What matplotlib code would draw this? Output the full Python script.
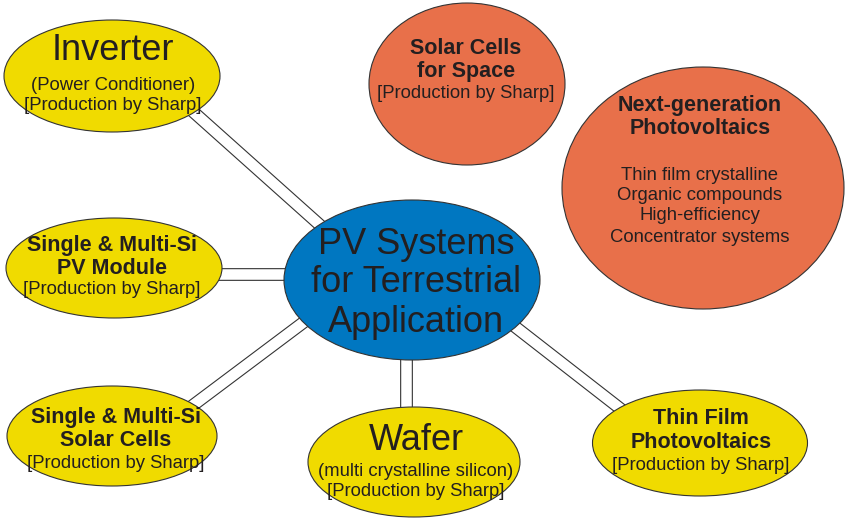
import matplotlib
matplotlib.use("Agg")
import matplotlib.pyplot as plt
from matplotlib.patches import Ellipse

plt.rcParams['font.family'] = ['Liberation Sans', 'DejaVu Sans']

YELLOW = '#f0db00'
ORANGE = '#e8704a'
BLUE = '#0077c1'
INK = '#231f20'

# node text (title lines, then the smaller lines under them)
hub_lines = ["PV Systems", "for Terrestrial", "Application"]
inverter_lines = ["Inverter", "(Power Conditioner)", "[Production by Sharp]"]
space_lines = ["Solar Cells", "for Space", "[Production by Sharp]"]
nextgen_lines = ["Next-generation", "Photovoltaics", "Thin film crystalline",
                 "Organic compounds", "High-efficiency", "Concentrator systems"]
module_lines = ["Single & Multi-Si", "PV Module", "[Production by Sharp]"]
cells_lines = ["Single & Multi-Si", "Solar Cells", "[Production by Sharp]"]
wafer_lines = ["Wafer", "(multi crystalline silicon)", "[Production by Sharp]"]
thinfilm_lines = ["Thin Film", "Photovoltaics", "[Production by Sharp]"]

# layout in pixel coords: (cx, cy, w, h, colour, text x, line ys, line styles)
BIG = (26, 'normal')
BOLD = (15.5, 'bold')
SMALL = (13.3, 'normal')

nodes = [
    (412, 280, 256, 160, BLUE, 416, [245, 283, 322], [BIG, BIG, BIG], hub_lines),
    (112, 76, 216, 112, YELLOW, 113, [50, 85, 105], [BIG, SMALL, SMALL], inverter_lines),
    (467, 84, 196, 162, ORANGE, 466, [48, 72, 93], [BOLD, BOLD, SMALL], space_lines),
    (703, 188, 282, 242, ORANGE, 700, [105, 128, 176, 196, 216, 237],
     [BOLD, BOLD, SMALL, SMALL, SMALL, SMALL], nextgen_lines),
    (114, 268, 216, 100, YELLOW, 112, [245, 268, 290], [BOLD, BOLD, SMALL], module_lines),
    (112, 436, 210, 100, YELLOW, 116, [417, 441, 463], [BOLD, BOLD, SMALL], cells_lines),
    (414, 462, 212, 110, YELLOW, 416, [441, 472, 492], [BIG, SMALL, SMALL], wafer_lines),
    (700, 443, 215, 106, YELLOW, 701, [418, 442, 465], [BOLD, BOLD, SMALL], thinfilm_lines),
]

# double-line connectors (ends hidden under the ellipses)
links = [
    ((180, 100), (340, 243)),
    ((200, 274), (300, 274)),
    ((180, 415), (320, 310)),
    ((406.5, 340), (406.5, 430)),
    ((500, 315), (640, 424)),
]

fig = plt.figure(figsize=(8.53, 5.30), dpi=100)
ax = fig.add_axes([0, 0, 1, 1])
ax.set_xlim(0, 853)
ax.set_ylim(530, 0)
ax.axis('off')

for (x0, y0), (x1, y1) in links:
    ax.plot([x0, x1], [y0, y1], color='#333333', lw=9.2, solid_capstyle='butt', zorder=1)
    ax.plot([x0, x1], [y0, y1], color='white', lw=7.6, solid_capstyle='butt', zorder=2)

for cx, cy, w, h, col, tx, ys, styles, lines in nodes:
    ax.add_patch(Ellipse((cx, cy), w, h, facecolor=col, edgecolor='#333333',
                         lw=0.8, zorder=3))
    for txt, y, (size, weight) in zip(lines, ys, styles):
        ax.text(tx, y, txt, ha='center', va='center', fontsize=size,
                fontweight=weight, color=INK, zorder=4)

fig.savefig("out.png", dpi=100)
